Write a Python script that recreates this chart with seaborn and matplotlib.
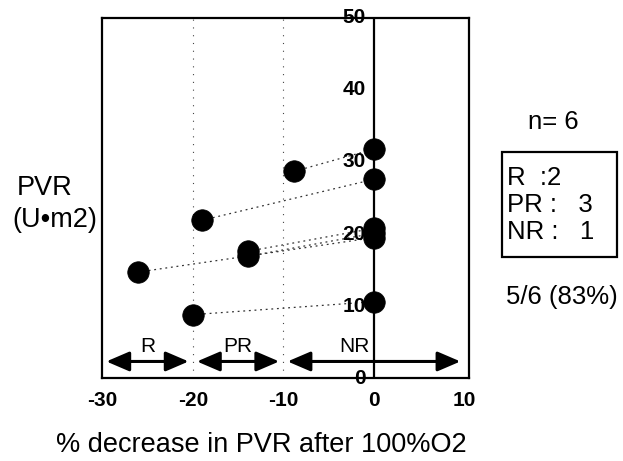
import numpy as np
import pandas as pd
import matplotlib.pyplot as plt
from matplotlib.patches import Rectangle
import seaborn as sns

# --- data ---
patients = ["p1", "p2", "p3", "p4", "p5", "p6"]
pct_decrease = [-8.8, -19.0, -13.9, -13.9, -26.1, -20.0]   # x after 100% O2
pvr_after = [28.7, 21.9, 17.6, 16.9, 14.7, 8.8]
pvr_baseline = [31.8, 27.6, 20.8, 20.1, 19.5, 10.6]        # plotted at x = 0

x_ticks = [-30, -20, -10, 0, 10]
y_ticks = [0, 10, 20, 30, 40, 50]
zone_names = ["R", "PR", "NR"]
zone_bounds = [(-30, -20), (-20, -10), (-10, 10)]
zone_label_x = [-25, -15, -2.2]
guide_x = [-20, -10]

summary_lines = ["R  :2", "PR :   3", "NR :   1"]

sns.set_theme(style="white")
plt.rcParams["font.family"] = ["Liberation Sans", "DejaVu Sans"]
plt.rcParams.update({
    "text.color": "black",
    "axes.labelcolor": "black",
    "xtick.color": "black",
    "ytick.color": "black",
})

df = pd.DataFrame({
    "patient": patients * 2,
    "x": pct_decrease + [0.0] * len(patients),
    "pvr": pvr_after + pvr_baseline,
})

fig = plt.figure(figsize=(6.23, 4.61), dpi=100)
ax = fig.add_axes([0.164, 0.180, 0.589, 0.781])

# dotted guides at zone boundaries
for gx in guide_x:
    ax.axvline(gx, color="#444444", lw=0.8, linestyle=(0, (1, 6)), zorder=1)

# connecting lines per patient
sns.lineplot(data=df, x="x", y="pvr", units="patient", estimator=None,
             sort=False, color="#333333", lw=0.9, linestyle=(0, (1.5, 3)),
             ax=ax, zorder=2, legend=False)

sns.scatterplot(data=df, x="x", y="pvr", color="black", s=240,
                edgecolor="black", linewidth=0.5, ax=ax, zorder=3, legend=False)

# y axis drawn at x = 0
ax.axvline(0, color="black", lw=1.6, zorder=2)
for v in y_ticks:
    ax.text(-0.9, v, str(v), ha="right", va="center", fontsize=15,
            fontweight="bold", clip_on=False, zorder=4)

# zone arrows
for name, (x0, x1), lx in zip(zone_names, zone_bounds, zone_label_x):
    ax.annotate("", xy=(x1, 2.3), xytext=(x0, 2.3),
                arrowprops=dict(arrowstyle="<|-|>,head_length=1.4,head_width=0.6",
                                lw=2.2, color="black", mutation_scale=10,
                                shrinkA=3, shrinkB=3))
    ax.text(lx, 4.4, name, ha="center", va="center", fontsize=15)

ax.set_xlim(-30, 10.5)
ax.set_ylim(0, 50)
ax.set_xticks(x_ticks)
ax.set_xticklabels([str(t) for t in x_ticks], fontweight="bold", fontsize=15)
ax.set_yticks([])
ax.tick_params(axis="x", length=0, pad=9)
ax.set_ylabel("")
ax.set_xlabel("% decrease in PVR after 100%O2", fontsize=19.5)
ax.xaxis.set_label_coords(0.433, -0.186)
ax.xaxis.label.set_va("center")

for sp in ax.spines.values():
    sp.set_visible(True)
    sp.set_color("black")
    sp.set_linewidth(1.6)

# left label
fig.text(45 / 623, 1 - 188 / 461, "PVR", ha="center", va="center", fontsize=19.5)
fig.text(55 / 623, 1 - 220 / 461, "(U\u2022m2)", ha="center", va="center", fontsize=19.5)

# right summary panel
fig.text(553 / 623, 1 - 122 / 461, "n= 6", ha="center", va="center", fontsize=18.5)
fig.patches.append(Rectangle((502 / 623, 1 - 257 / 461), 115 / 623, 105 / 461,
                             transform=fig.transFigure, fill=False,
                             edgecolor="black", lw=1.6))
for i, line in enumerate(summary_lines):
    fig.text(507 / 623, 1 - (178 + 27 * i) / 461, line, ha="left", va="center",
             fontsize=18.5)
fig.text(562 / 623, 1 - 297 / 461, "5/6 (83%)", ha="center", va="center", fontsize=18.5)

fig.savefig("out.png", dpi=100)
